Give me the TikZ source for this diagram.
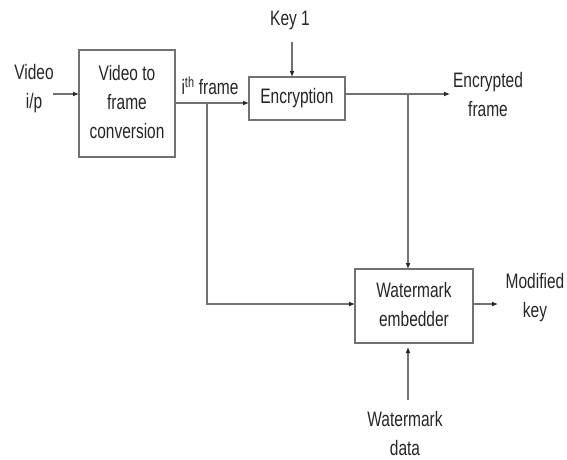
\documentclass[tikz,border=0pt]{standalone}
\usepackage{fontspec}
\usepackage{graphicx}
\setmainfont{Liberation Sans}
\usetikzlibrary{arrows.meta}
% Text is set narrow and tall, as in the printed chart
\newcommand{\talltext}[1]{\scalebox{1}[1.35]{\begin{tabular}{@{}c@{}}#1\end{tabular}}}
\definecolor{linegray}{HTML}{727272}
\definecolor{textgray}{HTML}{262626}
\tikzset{
  blockbox/.style={draw=linegray, line width=1.3pt, fill=white, inner sep=0pt},
  lbl/.style={inner sep=0pt, text=textgray, font=\fontsize{15.5}{21.5}\selectfont},
  wire/.style={draw=linegray, line width=1.3pt},
  arr/.style={wire, -{Latex[length=6pt,width=5pt,color=black!85]}},
}
\begin{document}
\begin{tikzpicture}[x=1pt,y=-1pt]
\useasboundingbox (0,0) rectangle (567,460);

% blocks
\draw[blockbox] (79,50) rectangle (175,157);
\node[lbl] (b1) at (127,103.5) {\talltext{Video to\\frame\\conversion}};
\coordinate (b1w) at (79,94);
\coordinate (b1e) at (175,103);

\draw[blockbox] (249,77) rectangle (345,120);
\node[lbl] (enc) at (297,98) {\talltext{Encryption}};
\coordinate (encin) at (249,103);
\coordinate (encout) at (345,94);
\coordinate (enctop) at (292,77);

\draw[blockbox] (355,269) rectangle (473,343);
\node[lbl] (wm) at (414,306) {\talltext{Watermark\\embedder}};
\coordinate (wmin) at (355,304);
\coordinate (wmtop) at (408,269);
\coordinate (wmbot) at (408,347);
\coordinate (wmout) at (473,304);

% labels
\node[lbl] (vid) at (34,88) {\talltext{Video\\i/p}};
\node[lbl] (ith) at (210,89) {\talltext{i\textsuperscript{th} frame}};
\node[lbl] (key) at (290,20) {\talltext{Key 1}};
\node[lbl] (encf) at (488,96) {\talltext{Encrypted\\frame}};
\node[lbl] (modk) at (535,297) {\talltext{Modified\\key}};
\node[lbl] (wmd) at (405,435) {\talltext{Watermark\\data}};

% wire ends and branch points
\coordinate (vinstart) at (53,94);
\coordinate (keyend) at (292,42);
\coordinate (encfend) at (450,94);
\coordinate (modkend) at (498,304);
\coordinate (wmdend) at (408,400);
\coordinate (split1) at (207,103);
\coordinate (split2) at (408,94);

% connectors
\draw[arr] (vinstart) -- (b1w);
\draw[arr] (b1e) -- (encin);
\draw[arr] (keyend) -- (enctop);
\draw[arr] (encout) -- (encfend);
\draw[arr] (split1) |- (wmin);
\draw[arr] (split2) -- (wmtop);
\draw[arr] (wmout) -- (modkend);
\draw[arr] (wmdend) -- (wmbot);
\end{tikzpicture}
\end{document}
